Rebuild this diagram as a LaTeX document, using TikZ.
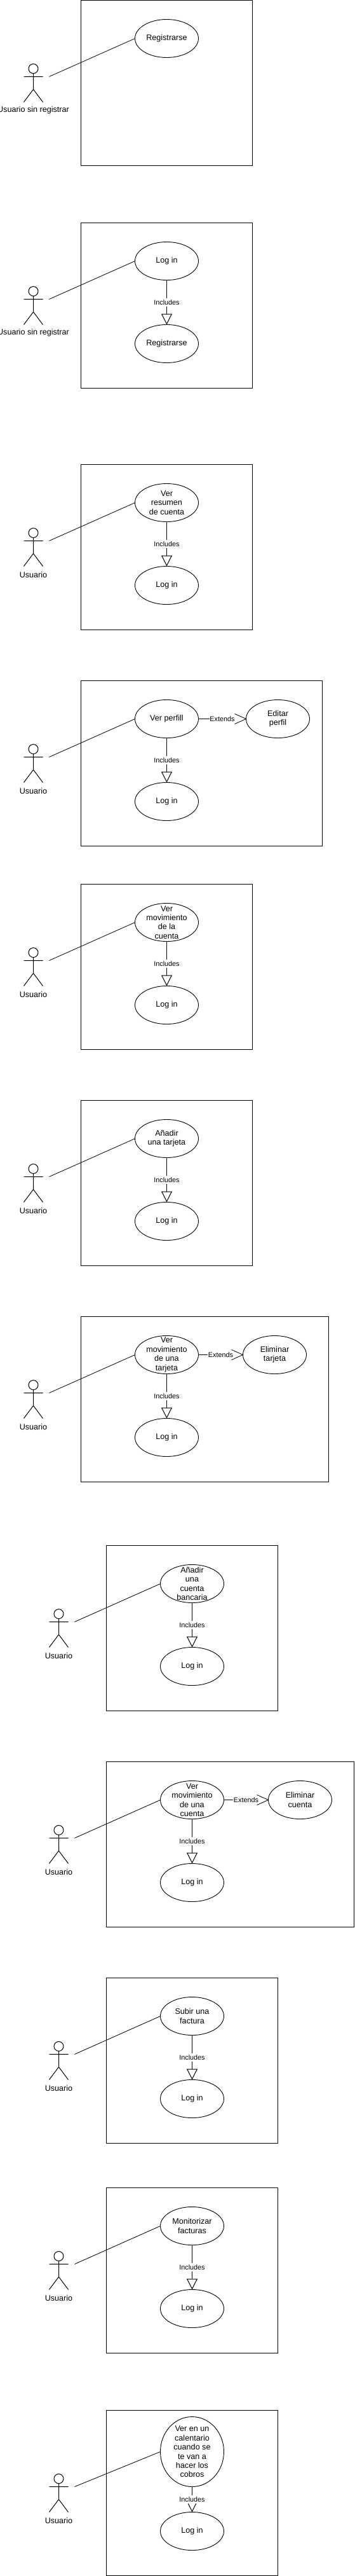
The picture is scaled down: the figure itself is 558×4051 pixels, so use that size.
\documentclass[tikz,border=0pt]{standalone}
\usepackage{fontspec}
\setmainfont{Liberation Sans}
\usetikzlibrary{shapes.geometric,arrows.meta}
\tikzset{
  sysbox/.style={draw=black,line width=1pt,rectangle,anchor=north west,minimum height=260pt,inner sep=0pt,outer sep=0pt},
  stick/.style={draw=black,line width=1pt},
  assoc/.style={draw=black,line width=0.8pt},
  ucase/.style={draw=black,line width=0.9pt,ellipse,fill=white,minimum width=100pt,minimum height=60pt,inner sep=0pt,outer sep=0pt},
  uctext/.style={align=center,inner sep=0pt,font=\fontsize{12.6}{14.4}\selectfont},
  actortext/.style={inner sep=0pt,font=\fontsize{12.6}{14.4}\selectfont},
  edgetext/.style={fill=white,inner xsep=0.5pt,inner ysep=0pt,minimum height=13.5pt,font=\fontsize{10.8}{13}\selectfont},
  inclarrow/.style={draw=black,line width=1pt,-{Triangle[open,length=17pt,width=17pt]}},
  extline/.style={draw=black,line width=1pt},
  extbarb/.style={draw=black,line width=0.8pt,line join=miter},
}
% id, X, Y, width, actor label, use case text, centre y, height
\newcommand\casepanel[8]{%
  \begin{scope}[shift={(#2,#3)}]
    \node[sysbox,minimum width=#4pt] (box#1) at (0,0) {};
    \draw[stick] (-75,7.5+100) circle [x radius=7.5,y radius=7.5];
    \draw[stick] (-75,115) -- (-75,140) (-90,120) -- (-60,120) (-90,160) -- (-75,140) -- (-60,160);
    \node[actortext] (who#1) at (-75,173) {#5};
    \coordinate (hand#1) at (-50,120);
    \node[ucase,minimum height=#8pt,label={[uctext]center:#6}] (main#1) at (135,#7) {};
    \draw[assoc] (hand#1) -- (main#1.west);
  \end{scope}%
}
% id, X, Y, target text
\newcommand\inclcase[4]{%
  \begin{scope}[shift={(#2,#3)}]
    \node[ucase,label={[uctext]center:#4}] (incl#1) at (135,190) {};
    \draw[inclarrow] (main#1.south) -- node[edgetext,midway] {Includes} (incl#1.north);
  \end{scope}%
}
% id, X, Y, target centre x, text
\newcommand\extcase[5]{%
  \begin{scope}[shift={(#2,#3)}]
    \node[ucase,label={[uctext]center:#5}] (ext#1) at (#4,60) {};
    \coordinate (back#1) at ([xshift=-18pt]ext#1.west);
    \draw[extline] (main#1.east) -- (back#1);
    \draw[extbarb] ([shift={(-18,-8)}]ext#1.west) -- (ext#1.west) -- ([shift={(-18,8)}]ext#1.west);
    \path (main#1.east) -- node[edgetext,midway] {Extends} (ext#1.west);
  \end{scope}%
}
\begin{document}
\begin{tikzpicture}[x=1pt,y=-1pt]
\useasboundingbox (0,0) rectangle (558,4051);
\casepanel{a}{127.5}{0.5}{270}{Usuario sin registrar}{Registrarse}{60}{60}

\casepanel{b}{127.5}{350.5}{270}{Usuario sin registrar}{Log in}{60}{60}
\inclcase{b}{127.5}{350.5}{Registrarse}

\casepanel{c}{127.5}{730.5}{270}{Usuario}{Ver\\resumen\\de cuenta}{60}{60}
\inclcase{c}{127.5}{730.5}{Log in}

\casepanel{d}{127.5}{1070.5}{380}{Usuario}{Ver perfill}{60}{60}
\inclcase{d}{127.5}{1070.5}{Log in}
\extcase{d}{127.5}{1070.5}{310}{Editar\\perfil}

\casepanel{e}{127.5}{1390.5}{270}{Usuario}{Ver\\movimiento\\de la\\cuenta}{60}{60}
\inclcase{e}{127.5}{1390.5}{Log in}

\casepanel{f}{127.5}{1730.5}{270}{Usuario}{Añadir\\una tarjeta}{60}{60}
\inclcase{f}{127.5}{1730.5}{Log in}

\casepanel{g}{127.5}{2070.5}{390}{Usuario}{Ver\\movimiento\\de una\\tarjeta}{60}{60}
\inclcase{g}{127.5}{2070.5}{Log in}
\extcase{g}{127.5}{2070.5}{305}{Eliminar\\tarjeta}

\casepanel{h}{167.5}{2430.5}{270}{Usuario}{Añadir\\una\\cuenta\\bancaria}{60}{60}
\inclcase{h}{167.5}{2430.5}{Log in}

\casepanel{i}{167.5}{2770.5}{390}{Usuario}{Ver\\movimiento\\de una\\cuenta}{60}{60}
\inclcase{i}{167.5}{2770.5}{Log in}
\extcase{i}{167.5}{2770.5}{305}{Eliminar\\cuenta}

\casepanel{j}{167.5}{3110.5}{270}{Usuario}{Subir una\\factura}{60}{60}
\inclcase{j}{167.5}{3110.5}{Log in}

\casepanel{k}{167.5}{3440.5}{270}{Usuario}{Monitorizar\\facturas}{60}{60}
\inclcase{k}{167.5}{3440.5}{Log in}

\casepanel{l}{167.5}{3790.5}{270}{Usuario}{Ver en un\\calentario\\cuando se\\te van a\\hacer los\\cobros}{65}{110}
\inclcase{l}{167.5}{3790.5}{Log in}
\end{tikzpicture}
\end{document}
